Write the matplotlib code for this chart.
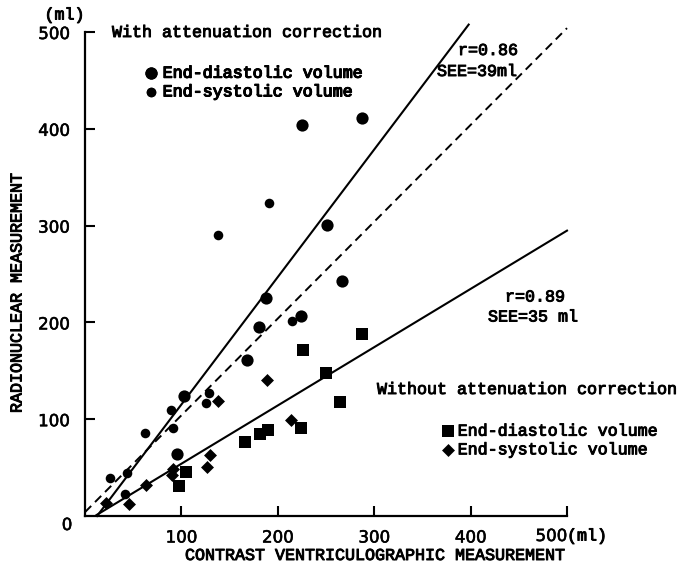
import matplotlib
matplotlib.use("Agg")
import matplotlib.pyplot as plt
import matplotlib.patheffects as pe
import numpy as np

# ---- data (ml) ----
ed_with_x = [95, 103, 168, 180, 188, 224, 225, 251, 267, 287]
ed_with_y = [64, 124, 161, 195, 225, 207, 404, 301, 243, 411]

es_with_x = [26, 44, 42, 62, 89, 91, 125, 129, 138, 191, 215]
es_with_y = [39, 44, 23, 86, 110, 91, 117, 127, 290, 323, 201]

ed_without_x = [97, 105, 166, 182, 190, 224, 226, 250, 265, 287]
ed_without_y = [31, 45, 76, 85, 89, 91, 171, 148, 118, 188]

es_without_x = [22, 46, 63, 90, 91, 127, 130, 138, 189, 214]
es_without_y = [13, 12, 32, 42, 49, 51, 63, 119, 141, 99]

# regression lines: (intercept, slope, x-range)
fit_with = (-16.5, 1.317, [12.5, 398])
fit_without = (-6.2, 0.602, [12, 500])
identity = (4.0, 1.0, [0, 500])

xticks = [100, 200, 300, 400]
yticks = [100, 200, 300, 400, 500]

W, H = 684, 566
fig = plt.figure(figsize=(W / 100, H / 100), dpi=100)

def fx(px):
    return px / W

def fy(py):
    return 1 - py / H

ax = fig.add_axes([fx(85), fy(516), (567 - 85) / W, (516 - 32) / H])
ax.set_xlim(0, 500)
ax.set_ylim(0, 500)

mono = "Liberation Mono"
sans = "DejaVu Sans"
fs = 12
thick = [pe.withStroke(linewidth=0.7, foreground="black")]

ax.spines["top"].set_visible(False)
ax.spines["right"].set_visible(False)
for s in ("left", "bottom"):
    ax.spines[s].set_linewidth(1.6)
ax.tick_params(direction="in", length=7, width=1.5, labelsize=12, pad=9)
ax.set_xticks(xticks + [500])
ax.set_xticklabels([str(v) for v in xticks] + [""], fontfamily=sans)
ax.set_yticks(yticks)
ax.set_yticklabels([str(v) for v in yticks], fontfamily=sans)
ax.tick_params(axis="y", pad=11)
for lab in ax.get_xticklabels() + ax.get_yticklabels():
    lab.set_path_effects([pe.withStroke(linewidth=0.4, foreground="black")])

# regression lines
for (b0, b1, xr) in [fit_with, fit_without]:
    xs = np.array(xr)
    ax.plot(xs, b0 + b1 * xs, color="black", lw=1.5, clip_on=False, zorder=2)
xs = np.array(identity[2])
ax.plot(xs, identity[0] + identity[1] * xs, color="black", lw=1.4,
        dashes=(4.5, 2.8), clip_on=False, zorder=2)

# markers
h1 = ax.scatter(ed_with_x, ed_with_y, s=8.8**2, marker="o", color="black", zorder=3,
                linewidths=0)
h2 = ax.scatter(es_with_x, es_with_y, s=6.9**2, marker="o", color="black", zorder=3,
                linewidths=0)
h3 = ax.scatter(ed_without_x, ed_without_y, s=8.0**2, marker="s", color="black", zorder=3,
                linewidths=0)
h4 = ax.scatter(es_without_x, es_without_y, s=6.6**2, marker="D", color="black", zorder=3,
                linewidths=0)

lprop = {"family": mono, "size": fs}
leg1 = fig.legend(handles=[h1, h2], labels=["End-diastolic volume", "End-systolic volume"],
                  loc="center left", bbox_to_anchor=(fx(144), fy(82.5)),
                  frameon=False, prop=lprop,
                  handlelength=0.8, handletextpad=0.32, labelspacing=0.22,
                  borderpad=0, borderaxespad=0, scatterpoints=1)
fig.add_artist(leg1)
leg2 = fig.legend(handles=[h3, h4], labels=["End-diastolic volume", "End-systolic volume"],
                  loc="center left", bbox_to_anchor=(fx(443), fy(440.5)),
                  frameon=False, prop=lprop,
                  handlelength=0.6, handletextpad=0.28, labelspacing=0.22,
                  borderpad=0, borderaxespad=0, scatterpoints=1)
for lg in (leg1, leg2):
    for txt in lg.get_texts():
        txt.set_path_effects(thick)

# texts
def t(px, py, s, **kw):
    kw.setdefault("family", mono)
    kw.setdefault("size", fs)
    kw.setdefault("ha", "left")
    kw.setdefault("va", "baseline")
    kw.setdefault("path_effects", thick)
    fig.text(fx(px), fy(py), s, **kw)

t(64.5, 15, "(ml)", ha="center", va="center")
t(112, 37, "With attenuation correction")
t(458, 55, "r=0.86")
t(437, 76, "SEE=39ml")
t(505, 301.5, "r=0.89")
t(488, 321.5, "SEE=35 ml")
t(377, 394, "Without attenuation correction")
t(185, 560, "CONTRAST VENTRICULOGRAPHIC MEASUREMENT")
t(17, 293, "RADIONUCLEAR MEASUREMENT", ha="center", va="center", rotation=90)
t(567, 536, "500", family=sans, ha="right", va="center",
  path_effects=[pe.withStroke(linewidth=0.4, foreground="black")])
t(567, 536, "(ml)", va="center")
t(67, 525, "0", family=sans, ha="center", va="center",
  path_effects=[pe.withStroke(linewidth=0.4, foreground="black")])

fig.savefig("out.png", dpi=100)
